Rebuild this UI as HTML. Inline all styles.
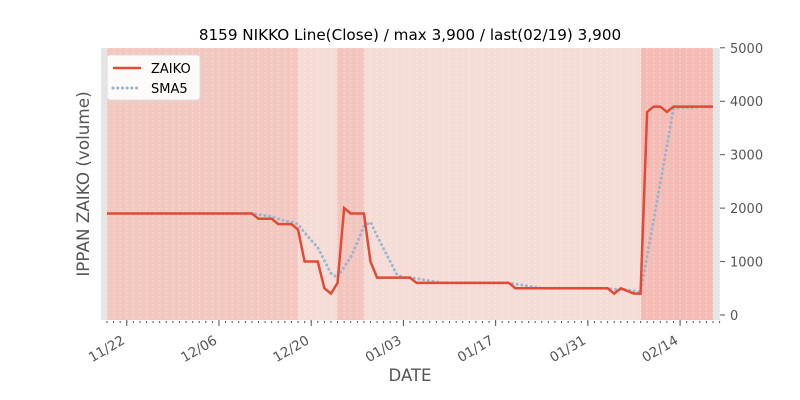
<!DOCTYPE html>
<html><head><meta charset="utf-8"><style>body{margin:0;background:#fff}svg{display:block}text{font-family:"DejaVu Sans","Liberation Sans",sans-serif}</style></head>
<body><svg id="s" width="800" height="400" xmlns="http://www.w3.org/2000/svg">
<rect x="101" y="48" width="619" height="272" fill="#e5e5e5"/>
<rect x="107" y="48" width="191" height="272" fill="#f2c8c0"/>
<rect x="298" y="48" width="39" height="272" fill="#f6dcd6"/>
<rect x="337" y="48" width="27" height="272" fill="#f2c6be"/>
<rect x="364" y="48" width="277" height="272" fill="#f6dcd6"/>
<rect x="641" y="48" width="72" height="272" fill="#f4bcb4"/>
<g id="grid"></g>
<text x="410" y="40" font-size="15.2" text-anchor="middle" fill="#000">8159 NIKKO Line(Close) / max 3,900 / last(02/19) 3,900</text>
<text transform="translate(89,184) rotate(-90)" font-size="16.8" text-anchor="middle" fill="#555">IPPAN ZAIKO (volume)</text>
<text x="410" y="381" font-size="16.5" text-anchor="middle" fill="#555">DATE</text>
<g id="yt" font-size="13" fill="#555"></g>
<g id="xt" font-size="13.5" fill="#555"></g>
<polyline id="sma" fill="none" stroke="#8fb3d0" stroke-width="3" stroke-dasharray="0.1,4.6" stroke-linecap="round" opacity="0.9"/>
<polyline id="z" fill="none" stroke="#e24a33" stroke-width="2.5"/>
<rect x="107" y="55" width="93" height="45" rx="3" fill="#fff" fill-opacity="0.9" stroke="#ddd"/>
<line x1="113" y1="68" x2="141" y2="68" stroke="#e24a33" stroke-width="2.5"/>
<line x1="113" y1="88" x2="141" y2="88" stroke="#8fb3d0" stroke-width="3" stroke-dasharray="0.1,4.6" stroke-linecap="round"/>
<text x="151" y="73" font-size="13" fill="#000">ZAIKO</text>
<text x="151" y="93" font-size="13" fill="#000">SMA5</text>
</svg>
<script>
var v=[];for(var i=0;i<=92;i++){var a;
if(i<=22)a=1900;else if(i<=25)a=1800;else if(i<=28)a=1700;else if(i==29)a=1600;else if(i<=32)a=1000;else if(i==33)a=500;else if(i==34)a=400;else if(i==35)a=600;else if(i==36)a=2000;else if(i<=39)a=1900;else if(i==40)a=1000;else if(i<=46)a=700;else if(i<=61)a=600;else if(i<=76)a=500;else if(i==77)a=400;else if(i==78)a=500;else if(i==79)a=450;else if(i<=81)a=400;else if(i==82)a=3800;else if(i<=84)a=3900;else if(i==85)a=3800;else a=3900;v.push(a);}
function X(i){return 107+i*6.587}function Y(a){return 315-a*0.05344}
var p=[],q=[];for(i=0;i<v.length;i++){p.push(X(i)+','+Y(v[i]));if(i>=4){var s=0;for(var k=i-4;k<=i;k++)s+=v[k];q.push(X(i)+','+Y(s/5));}}
document.getElementById('z').setAttribute('points',p.join(' '));
document.getElementById('sma').setAttribute('points',q.join(' '));
var ns='http://www.w3.org/2000/svg',g=document.getElementById('grid'),yt=document.getElementById('yt'),xt=document.getElementById('xt');
function el(t,at,par,txt){var e=document.createElementNS(ns,t);for(var k in at)e.setAttribute(k,at[k]);if(txt)e.textContent=txt;par.appendChild(e);return e}
for(i=-1;i<=93;i++){var x=X(i);if(x<101||x>720)continue;el('line',{x1:x,y1:48,x2:x,y2:320,stroke:'#fff','stroke-opacity':0.35,'stroke-dasharray':'2,2','stroke-width':1},g);el('line',{x1:x,y1:321,x2:x,y2:323,stroke:'#555','stroke-width':1},xt);}
var labs=['11/22','12/06','12/20','01/03','01/17','01/31','02/14'];
for(i=0;i<7;i++){var x=X(3+14*i);el('line',{x1:x,y1:320,x2:x,y2:326,stroke:'#555'},xt);el('text',{x:x-1,y:343,'text-anchor':'end',transform:'rotate(-30 '+(x-1)+' 343)'},xt,labs[i]);}
for(i=0;i<=5;i++){var y=Y(i*1000);el('line',{x1:720,y1:y,x2:725,y2:y,stroke:'#555'},yt);el('text',{x:730,y:y+5},yt,String(i*1000));}
</script></body></html>
